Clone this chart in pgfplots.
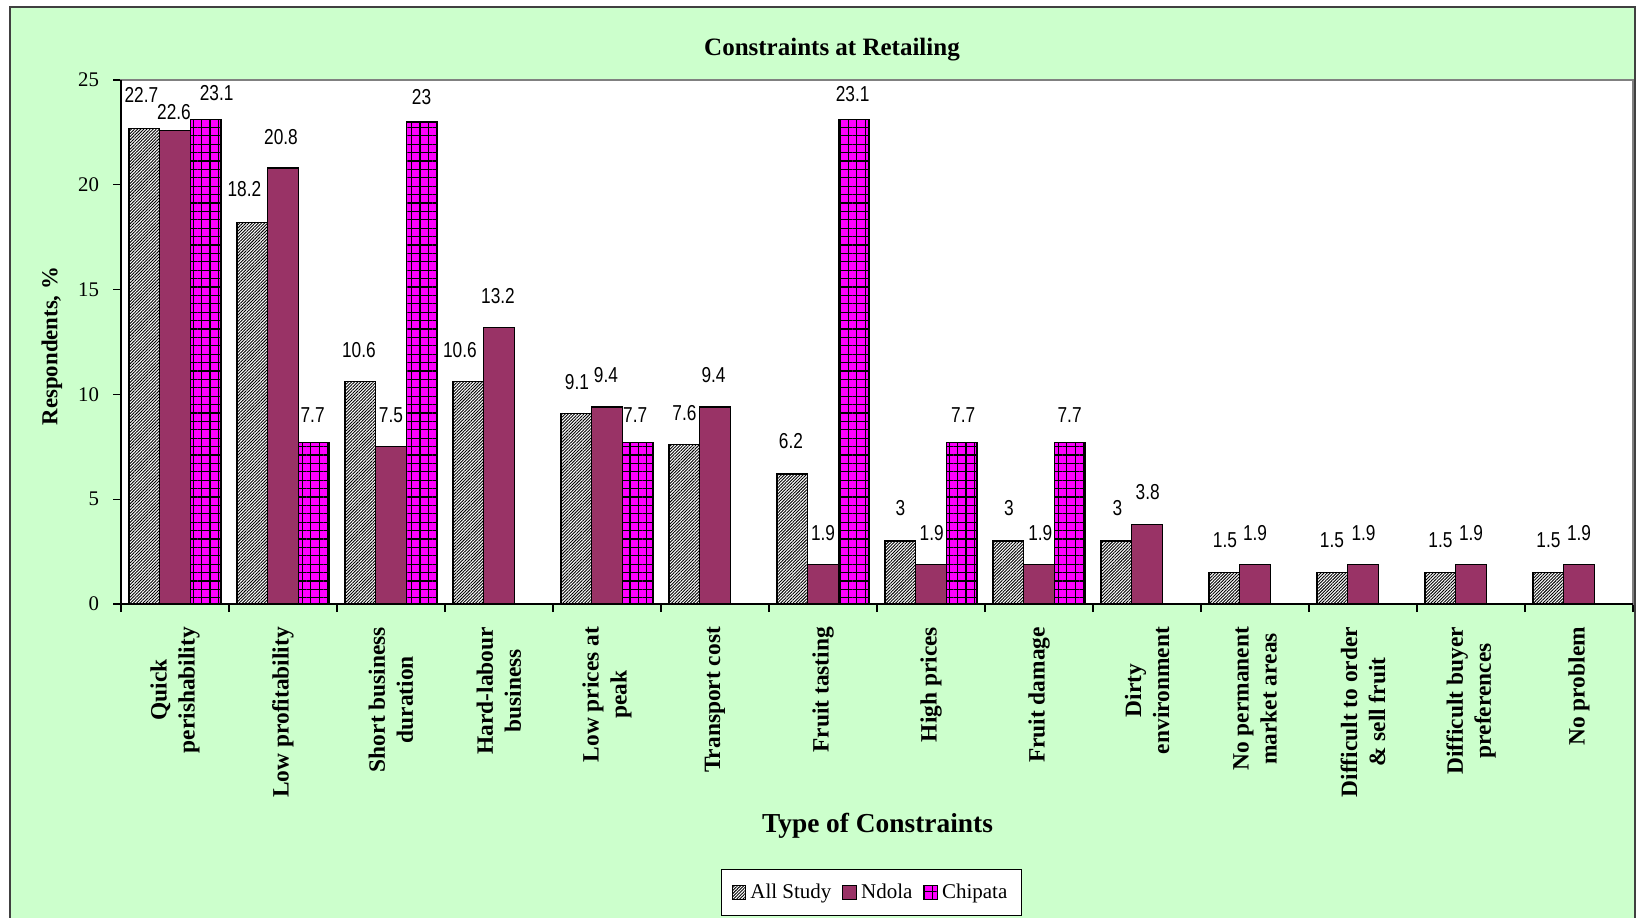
\documentclass[border=0pt]{standalone}
\usepackage{fontspec}
\setmainfont{Liberation Serif}
\newfontfamily\lblfont[FakeStretch=0.8]{Liberation Sans}
\usepackage{pgfplots}
\usepackage{pgfplotstable}
\pgfplotsset{compat=1.18}
\usetikzlibrary{patterns.meta}
\definecolor{bggreen}{HTML}{CCFFCC}
\definecolor{ndola}{HTML}{993366}
\definecolor{chip}{HTML}{FF00FF}

% x = category, y = value, dx/dy = label offset (pt) from bar top
\pgfplotstableread{
x y dx dy
1 22.7 -1.5 16.5
2 18.2 -4 16.75
3 10.6 -0.75 16
4 10.6 -4.25 16
5 9.1 0.25 15.8
6 7.6 0 15.7
7 6.2 -0.75 16.5
8 3 0 16.4
9 3 0.25 16.4
10 3 0.5 16.4
11 1.5 0.25 16.3
12 1.5 -0.25 16.3
13 1.5 0 16.3
14 1.5 0 16.3
}\tabAS
\pgfplotstableread{
x y dx dy
1 22.6 -0.5 9.3
2 20.8 -1 15.35
3 7.5 0 15.9
4 13.2 -0.5 15.5
5 9.4 -0.5 16
6 9.4 -0.75 16
7 1.9 0 15.5
8 1.9 0.35 15.5
9 1.9 0.65 15.5
10 3.8 0.35 16.35
11 1.9 0 15.75
12 1.9 0.25 15.75
13 1.9 0 15.75
14 1.9 0 15.75
}\tabND
\pgfplotstableread{
x y dx dy
1 23.1 5.5 13.25
2 7.7 -0.5 13.8
3 23 0 12.35
5 7.7 -1.2 13.8
7 23.1 -0.5 12.9
8 7.7 0.8 13.8
9 7.7 0 13.8
}\tabCH

\begin{document}
\begin{tikzpicture}
\useasboundingbox (0,0) rectangle (818pt,458.5pt);
\fill[white] (0,0) rectangle (818pt,458.5pt);
\fill[bggreen] (5pt,-2pt) rectangle (817.5pt,455pt);
\draw[line width=1pt, black!75] (5pt,-2pt) -- (5pt,455pt) -- (817.5pt,455pt) -- (817.5pt,-2pt);
\begin{axis}[
  at={(60.5pt,156.5pt)}, anchor=south west,
  width=756pt, height=262pt, scale only axis,
  xmin=0.5, xmax=14.5, ymin=0, ymax=25,
  ybar=0pt, bar width=15.3pt,
  axis background/.style={fill=white},
  axis line style={draw=gray, line width=0.6pt},
  tick align=outside,
  major tick length=4pt,
  ytick={0,5,10,15,20,25},
  ytick pos=left,
  xtick={0.5,1.5,2.5,3.5,4.5,5.5,6.5,7.5,8.5,9.5,10.5,11.5,12.5,13.5,14.5},
  xticklabels={{},{},{},{},{},{},{},{},{},{},{},{},{},{},{}},
  xtick pos=bottom,
  tick style={black, line width=0.6pt},
  /pgf/number format/assume math mode=true,
  yticklabel style={font=\fontsize{10.4}{12}\selectfont, xshift=-3.5pt},
  extra x ticks={1,2,3,4,5,6,7,8,9,10,11,12,13,14},
  extra x tick labels={{Quick\\perishability},{Low profitability},{Short business\\duration},{Hard-labour\\business},{Low prices at\\peak},{Transport cost},{Fruit tasting},{High prices},{Fruit damage},{Dirty\\environment},{No permanent\\market areas},{Difficult to order\\\& sell fruit},{Difficult buyer\\preferences},{No problem}},
  extra x tick style={major tick length=0pt, xticklabel style={yshift=-8pt, rotate=90, anchor=east, align=center, font=\bfseries\fontsize{11.7}{14}\selectfont}},
  visualization depends on={\thisrow{dx} \as \ldx},
  visualization depends on={\thisrow{dy} \as \ldy},
  nodes near coords,
  nodes near coords style={anchor=center, xshift=\ldx pt, yshift=\ldy pt, font=\lblfont\fontsize{10.8}{12}\selectfont, inner sep=0pt, text=black},
  legend style={at={(0.4964,-0.5506)}, anchor=center, legend columns=-1, draw=black, fill=white, line width=0.6pt, font=\fontsize{10.5}{12}\selectfont, inner xsep=5pt, inner ysep=5pt, /tikz/every even column/.append style={column sep=3.5pt}},
  sqlegend/.style={legend image code/.code={\draw[##1, line width=0.5pt] (0pt,-3.4pt) rectangle (6.8pt,3.4pt);}},
  after end axis/.code={\draw[black, line width=0.7pt] (rel axis cs:0,1) -- (rel axis cs:0,0) -- (rel axis cs:1,0);},
]
\addplot[sqlegend, draw=black, line width=0.65pt, fill=white, postaction={pattern={Lines[angle=45,distance=1.1pt,line width=0.45pt]}, pattern color=black}] table[x=x,y=y] {\tabAS};
\addplot[sqlegend, draw=black, line width=0.65pt, fill=ndola] table[x=x,y=y] {\tabND};
\addplot[sqlegend, draw=black, line width=0.65pt, fill=chip, postaction={pattern={Hatch[distance=4.2pt,line width=0.55pt]}, pattern color=black}] table[x=x,y=y] {\tabCH};
\legend{All Study, Ndola, Chipata}
\end{axis}
\node[font=\bfseries\fontsize{12.5}{15}\selectfont] at (416pt,433.5pt) {Constraints at Retailing};
\node[font=\bfseries\fontsize{13.7}{16}\selectfont] at (438.75pt,45.5pt) {Type of Constraints};
\node[rotate=90, font=\bfseries\fontsize{11.4}{14}\selectfont] at (26pt,285.5pt) {Respondents, \%};
\end{tikzpicture}
\end{document}
